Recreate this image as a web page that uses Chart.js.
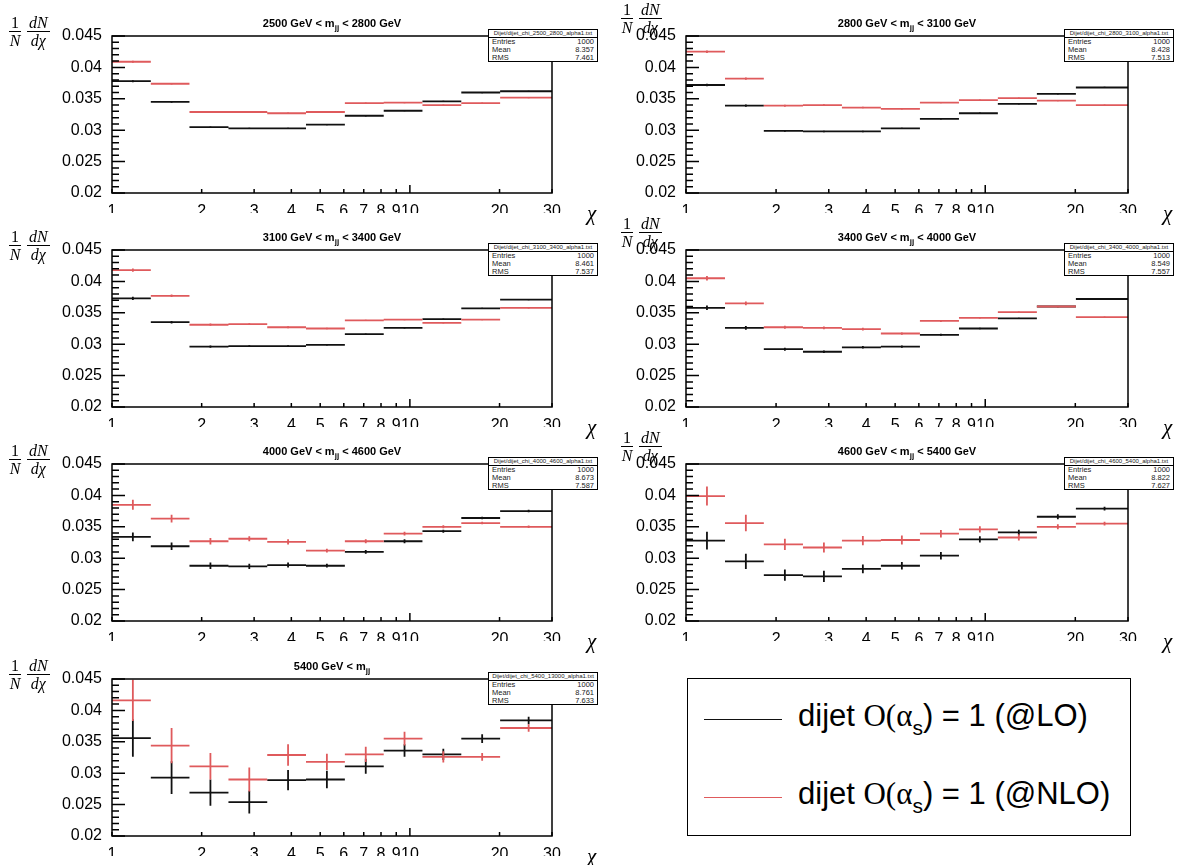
<!DOCTYPE html>
<html>
<head>
<meta charset="utf-8">
<script src="https://cdn.jsdelivr.net/npm/chart.js@4.4.1/dist/chart.umd.min.js"></script>
<style>
    body { margin: 0; background: #fff; }
    #page { position: relative; width: 1183px; height: 865px; overflow: hidden; font-family: "Liberation Sans", Arial, sans-serif; }
    canvas.panel { position: absolute; }
    .ptitle { position: absolute; font-weight: bold; font-size: 11px; text-align: center; white-space: nowrap; }
    .ptitle sub { font-size: 8px; vertical-align: -3px; }
    .ytitle { position: absolute; font-family: "Liberation Serif", "DejaVu Serif", serif; font-size: 16px; white-space: nowrap; }
    .frac { display: inline-flex; flex-direction: column; align-items: center; vertical-align: top; margin-right: 6px; }
    .frac .num { border-bottom: 1px solid #000; line-height: 16px; padding: 0 2px; }
    .frac .den { line-height: 17px; }
    .xtitle { position: absolute; font-family: "Liberation Serif", serif; font-style: italic; font-size: 21px; line-height: 21px; }
    .stats { position: absolute; width: 110px; height: 33px; border: 1.5px solid #000; background: #fff; box-sizing: border-box; }
    .stats .sname { font-size: 6px; line-height: 7px; height: 7px; text-align: center; border-bottom: 1.5px solid #000; color: #222; }
    .stats .srow { display: flex; justify-content: space-between; font-size: 7.5px; line-height: 7.8px; padding: 0 3px; color: #222; }
    #legend { position: absolute; left: 687px; top: 678px; width: 444px; height: 158px; border: 1.5px solid #000; box-sizing: border-box; }
    .lrow { position: absolute; left: 16px; height: 40px; display: flex; align-items: center; }
    .lline { width: 78px; height: 0; border-top: 1.6px solid; margin-right: 16px; }
    .ltext { font-size: 31px; white-space: nowrap; }
    .ltext .serif { font-family: "Liberation Serif", serif; }
    .ltext sub { font-size: 21px; vertical-align: -9px; }
</style>
</head>
<body>
<div id="page"></div>
<script>
// chi bin edges and axis ticks
const chiEdges = [1, 1.35, 1.82, 2.46, 3.32, 4.48, 6.05, 8.17, 11.02, 14.88, 20.09, 30];
const xTickValues = [1, 2, 3, 4, 5, 6, 7, 8, 9, 10, 20, 30];
const yTickValues = [0.02, 0.025, 0.03, 0.035, 0.04, 0.045];
const yMinorStep = 0.001;

// 2500 < mjj < 2800
const lo2500 = [0.0378, 0.0345, 0.0305, 0.0303, 0.0303, 0.0309, 0.0323, 0.0331, 0.0346, 0.0360, 0.0362];
const loErr2500 = [0.00015, 0.00012, 0.0001, 0.0001, 0.0001, 0.0001, 0.0001, 0.0001, 0.0001, 0.0001, 0.0001];
const nlo2500 = [0.0409, 0.0374, 0.0329, 0.0329, 0.0327, 0.0329, 0.0343, 0.0344, 0.0340, 0.0343, 0.0352];
const nloErr2500 = [0.00015, 0.00012, 0.0001, 0.0001, 0.0001, 0.0001, 0.0001, 0.0001, 0.0001, 0.0001, 0.0001];

// 2800 < mjj < 3100
const lo2800 = [0.0372, 0.0339, 0.0299, 0.0298, 0.0298, 0.0303, 0.0318, 0.0327, 0.0342, 0.0358, 0.0368];
const loErr2800 = [0.0002, 0.00018, 0.00015, 0.00012, 0.00012, 0.0001, 0.0001, 0.0001, 0.0001, 0.0001, 0.0001];
const nlo2800 = [0.0425, 0.0382, 0.0339, 0.0340, 0.0336, 0.0334, 0.0344, 0.0348, 0.0351, 0.0347, 0.0340];
const nloErr2800 = [0.0002, 0.00018, 0.00015, 0.00012, 0.00012, 0.0001, 0.0001, 0.0001, 0.0001, 0.0001, 0.0001];

// 3100 < mjj < 3400
const lo3100 = [0.0373, 0.0335, 0.0296, 0.0297, 0.0297, 0.0299, 0.0316, 0.0326, 0.0340, 0.0357, 0.0371];
const loErr3100 = [0.00025, 0.0002, 0.00018, 0.00015, 0.00015, 0.00012, 0.0001, 0.0001, 0.0001, 0.0001, 0.0001];
const nlo3100 = [0.0418, 0.0377, 0.0331, 0.0332, 0.0327, 0.0325, 0.0338, 0.0339, 0.0334, 0.0339, 0.0358];
const nloErr3100 = [0.00025, 0.0002, 0.00018, 0.00015, 0.00015, 0.00012, 0.0001, 0.0001, 0.0001, 0.0001, 0.0001];

// 3400 < mjj < 4000
const lo3400 = [0.0358, 0.0326, 0.0292, 0.0288, 0.0295, 0.0296, 0.0315, 0.0325, 0.0341, 0.0360, 0.0372];
const loErr3400 = [0.00035, 0.0003, 0.00025, 0.0002, 0.0002, 0.00018, 0.00015, 0.00012, 0.0001, 0.0001, 0.0001];
const nlo3400 = [0.0405, 0.0365, 0.0327, 0.0326, 0.0324, 0.0317, 0.0337, 0.0342, 0.0351, 0.0360, 0.0343];
const nloErr3400 = [0.00035, 0.0003, 0.00025, 0.0002, 0.0002, 0.00018, 0.00015, 0.00012, 0.0001, 0.0001, 0.0001];

// 4000 < mjj < 4600
const lo4000 = [0.0334, 0.0319, 0.0288, 0.0287, 0.0289, 0.0288, 0.0310, 0.0327, 0.0343, 0.0364, 0.0375];
const loErr4000 = [0.0007, 0.0006, 0.0005, 0.0004, 0.0004, 0.0003, 0.0003, 0.0003, 0.00025, 0.0002, 0.0002];
const nlo4000 = [0.0385, 0.0363, 0.0327, 0.0331, 0.0326, 0.0312, 0.0327, 0.0339, 0.0350, 0.0356, 0.0350];
const nloErr4000 = [0.0008, 0.0006, 0.0005, 0.0004, 0.0004, 0.0003, 0.0003, 0.0003, 0.00025, 0.0002, 0.0002];

// 4600 < mjj < 5400
const lo4600 = [0.0328, 0.0295, 0.0273, 0.0271, 0.0283, 0.0288, 0.0304, 0.0330, 0.0341, 0.0366, 0.0379];
const loErr4600 = [0.0014, 0.0012, 0.0009, 0.0009, 0.0007, 0.0006, 0.0006, 0.0005, 0.00045, 0.0004, 0.0003];
const nlo4600 = [0.0399, 0.0356, 0.0322, 0.0317, 0.0328, 0.0329, 0.0339, 0.0346, 0.0333, 0.0350, 0.0355];
const nloErr4600 = [0.0015, 0.0013, 0.0009, 0.0008, 0.00075, 0.0007, 0.0006, 0.0005, 0.0005, 0.0004, 0.0003];

// 5400 < mjj
const lo5400 = [0.0356, 0.0293, 0.0269, 0.0254, 0.0289, 0.0290, 0.0311, 0.0336, 0.0330, 0.0355, 0.0384];
const loErr5400 = [0.0030, 0.0026, 0.0021, 0.0018, 0.0016, 0.0014, 0.0012, 0.0010, 0.0009, 0.0007, 0.0006];
const nlo5400 = [0.0416, 0.0344, 0.0311, 0.0290, 0.0329, 0.0318, 0.0330, 0.0355, 0.0326, 0.0326, 0.0372];
const nloErr5400 = [0.0033, 0.0028, 0.0021, 0.0019, 0.0017, 0.0013, 0.0012, 0.0011, 0.0009, 0.0006, 0.0006];

// panel titles and stat boxes
const massTitles = [
    '2500 GeV &lt; m<sub>jj</sub> &lt; 2800 GeV',
    '2800 GeV &lt; m<sub>jj</sub> &lt; 3100 GeV',
    '3100 GeV &lt; m<sub>jj</sub> &lt; 3400 GeV',
    '3400 GeV &lt; m<sub>jj</sub> &lt; 4000 GeV',
    '4000 GeV &lt; m<sub>jj</sub> &lt; 4600 GeV',
    '4600 GeV &lt; m<sub>jj</sub> &lt; 5400 GeV',
    '5400 GeV &lt; m<sub>jj</sub>'
];
const statFiles = ['2500_2800', '2800_3100', '3100_3400', '3400_4000', '4000_4600', '4600_5400', '5400_13000'];
const statEntries = [1000, 1000, 1000, 1000, 1000, 1000, 1000];
const statMeans = ['8.357', '8.428', '8.461', '8.549', '8.673', '8.822', '8.761'];
const statRms = ['7.461', '7.513', '7.537', '7.557', '7.587', '7.627', '7.633'];

const loSets = [lo2500, lo2800, lo3100, lo3400, lo4000, lo4600, lo5400];
const loErrSets = [loErr2500, loErr2800, loErr3100, loErr3400, loErr4000, loErr4600, loErr5400];
const nloSets = [nlo2500, nlo2800, nlo3100, nlo3400, nlo4000, nlo4600, nlo5400];
const nloErrSets = [nloErr2500, nloErr2800, nloErr3100, nloErr3400, nloErr4000, nloErr4600, nloErr5400];

const loColor = '#111111';
const nloColor = '#df5a5c';

// geometry
const rowTops = [36, 250, 464, 679];
const frameH = 157;
const colFrames = [{ canvasLeft: 0, width: 600, left: 112, right: 552 },
                   { canvasLeft: 574, width: 609, left: 686, right: 1128 }];

Chart.defaults.font.family = '"Liberation Sans", Arial, sans-serif';
Chart.defaults.color = '#000';

/**
 * Horizontal bin segments, broken by null points
 */
function binSegments(values) {
    const pts = [];
    values.forEach((v, i) => {
        pts.push({ x: chiEdges[i], y: v });
        pts.push({ x: chiEdges[i + 1], y: v });
        pts.push({ x: chiEdges[i + 1], y: null });
    });
    return pts;
}

/**
 * Vertical error bars at the bin centre
 */
function errorSegments(values, errors) {
    const pts = [];
    values.forEach((v, i) => {
        const xc = (chiEdges[i] + chiEdges[i + 1]) / 2;
        pts.push({ x: xc, y: v - errors[i] });
        pts.push({ x: xc, y: v + errors[i] });
        pts.push({ x: xc, y: null });
    });
    return pts;
}

// ROOT style frame with inner tick marks
const rootFrame = {
    id: 'rootFrame',
    afterDraw(chart) {
        const { ctx, chartArea: a, scales: { x, y } } = chart;
        ctx.save();
        ctx.strokeStyle = '#000';
        ctx.lineWidth = 1.5;
        ctx.strokeRect(a.left, a.top, a.right - a.left, a.bottom - a.top);
        ctx.beginPath();
        const nMinor = Math.round((y.max - y.min) / yMinorStep);
        for (let k = 0; k <= nMinor; k++) {
            const v = y.min + k * yMinorStep;
            const py = y.getPixelForValue(v);
            const len = (k % 5 === 0) ? 13 : 7;
            ctx.moveTo(a.left, py);
            ctx.lineTo(a.left + len, py);
        }
        xTickValues.forEach(v => {
            const px = x.getPixelForValue(v);
            const len = (v === 10) ? 8 : 4;
            ctx.moveTo(px, a.bottom);
            ctx.lineTo(px, a.bottom - len);
        });
        ctx.stroke();
        ctx.restore();
    }
};

const page = document.getElementById('page');

function makePanel(idx) {
    const row = Math.floor(idx / 2);
    const col = idx % 2;
    const geo = colFrames[col];
    const top = rowTops[row];

    const canvas = document.createElement('canvas');
    canvas.className = 'panel';
    canvas.width = geo.width;
    canvas.height = 230;
    canvas.style.left = geo.canvasLeft + 'px';
    canvas.style.top = (top - 36) + 'px';
    page.appendChild(canvas);

    const lineStyle = (color) => ({
        borderColor: color,
        borderWidth: 1.8,
        pointRadius: 0,
        pointHoverRadius: 0,
        spanGaps: false,
        fill: false,
        tension: 0
    });

    new Chart(canvas, {
        type: 'line',
        data: {
            datasets: [
                Object.assign({ label: 'NLO', data: binSegments(nloSets[idx]) }, lineStyle(nloColor)),
                Object.assign({ label: 'NLO err', data: errorSegments(nloSets[idx], nloErrSets[idx]) }, lineStyle(nloColor)),
                Object.assign({ label: 'LO', data: binSegments(loSets[idx]) }, lineStyle(loColor)),
                Object.assign({ label: 'LO err', data: errorSegments(loSets[idx], loErrSets[idx]) }, lineStyle(loColor))
            ]
        },
        options: {
            responsive: false,
            animation: false,
            events: [],
            layout: {
                padding: { top: 36, left: 0, right: geo.width - (geo.right - geo.canvasLeft), bottom: 17 }
            },
            plugins: {
                legend: { display: false },
                tooltip: { enabled: false },
                title: { display: false }
            },
            scales: {
                x: {
                    type: 'logarithmic',
                    min: 1,
                    max: 30,
                    afterBuildTicks: s => { s.ticks = xTickValues.map(v => ({ value: v })); },
                    afterFit: s => { s.height = 20; },
                    grid: { display: false, drawTicks: false },
                    border: { display: false },
                    ticks: {
                        autoSkip: false,
                        maxRotation: 0,
                        padding: 9,
                        font: { size: 16 },
                        color: '#000',
                        callback: v => String(v)
                    }
                },
                y: {
                    min: 0.02,
                    max: 0.045,
                    afterBuildTicks: s => { s.ticks = yTickValues.map(v => ({ value: v })); },
                    afterFit: s => { s.width = geo.left - geo.canvasLeft; },
                    grid: { display: false, drawTicks: false },
                    border: { display: false },
                    ticks: {
                        padding: 10,
                        font: { size: 16 },
                        color: '#000',
                        callback: v => String(+v.toFixed(3))
                    }
                }
            }
        },
        plugins: [rootFrame]
    });

    // panel title
    const t = document.createElement('div');
    t.className = 'ptitle';
    t.innerHTML = massTitles[idx];
    t.style.left = geo.left + 'px';
    t.style.width = (geo.right - geo.left) + 'px';
    t.style.top = (top - 19) + 'px';
    page.appendChild(t);

    // y axis title 1/N dN/dchi
    const yt = document.createElement('div');
    yt.className = 'ytitle';
    yt.innerHTML = '<span class="frac"><span class="num">1</span><span class="den"><i>N</i></span></span>' +
                   '<span class="frac"><span class="num"><i>dN</i></span><span class="den"><i>d&chi;</i></span></span>';
    if (col === 0) {
        yt.style.left = (geo.left - 103) + 'px';
        yt.style.top = (top - 21) + 'px';
    } else {
        yt.style.left = (geo.left - 65) + 'px';
        yt.style.top = (top - 34) + 'px';
    }
    page.appendChild(yt);

    // x axis title
    const xt = document.createElement('div');
    xt.className = 'xtitle';
    xt.textContent = 'χ';
    xt.style.left = (geo.right + 35) + 'px';
    xt.style.top = (top + frameH + 10) + 'px';
    page.appendChild(xt);

    // stat box
    const sb = document.createElement('div');
    sb.className = 'stats';
    sb.style.left = (geo.right - 64) + 'px';
    sb.style.top = (top - 7) + 'px';
    sb.innerHTML = '<div class="sname">Dijet/dijet_chi_' + statFiles[idx] + '_alpha1.txt</div>' +
        '<div class="srow"><span>Entries</span><span>' + statEntries[idx] + '</span></div>' +
        '<div class="srow"><span>Mean</span><span>' + statMeans[idx] + '</span></div>' +
        '<div class="srow"><span>RMS</span><span>' + statRms[idx] + '</span></div>';
    page.appendChild(sb);
}

for (let i = 0; i < loSets.length; i++) {
    makePanel(i);
}

// legend box
const legend = document.createElement('div');
legend.id = 'legend';
legend.innerHTML =
    '<div class="lrow" style="top:20px"><div class="lline" style="border-color:' + loColor + '"></div>' +
    '<div class="ltext">dijet <span class="serif">O(α</span><sub>s</sub>) = 1 (@LO)</div></div>' +
    '<div class="lrow" style="top:98px"><div class="lline" style="border-color:' + nloColor + '"></div>' +
    '<div class="ltext">dijet <span class="serif">O(α</span><sub>s</sub>) = 1 (@NLO)</div></div>';
page.appendChild(legend);
</script>
</body>
</html>
